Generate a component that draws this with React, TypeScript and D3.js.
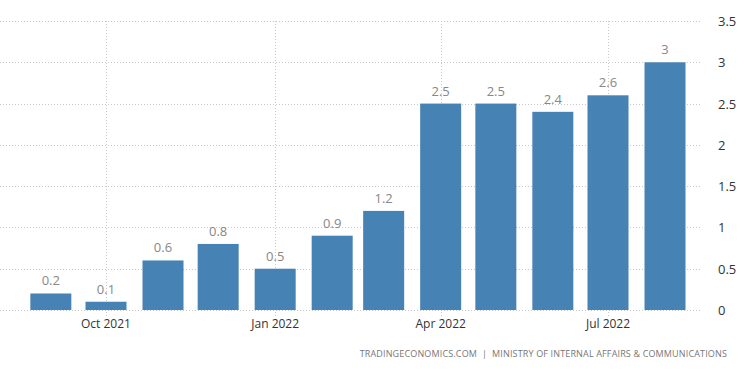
import React, { useEffect, useRef } from "react";
import * as d3 from "d3";

const months = [
  "2021-09-01", "2021-10-01", "2021-11-01", "2021-12-01", "2022-01-01", "2022-02-01",
  "2022-03-01", "2022-04-01", "2022-05-01", "2022-06-01", "2022-07-01", "2022-08-01",
];
const values = [0.2, 0.1, 0.6, 0.8, 0.5, 0.9, 1.2, 2.5, 2.5, 2.4, 2.6, 3];
const xTicks = ["2021-10-01", "2022-01-01", "2022-04-01", "2022-07-01"];
const yTicks = [0, 0.5, 1, 1.5, 2, 2.5, 3, 3.5];
const source = "TRADINGECONOMICS.COM  |  MINISTRY OF INTERNAL AFFAIRS & COMMUNICATIONS";

const App = () => {
  const ref = useRef<SVGSVGElement>(null);

  useEffect(() => {
    const width = 750;
    const height = 373;
    const plotRight = 700;
    const parse = d3.utcParse("%Y-%m-%d");
    const fmt = d3.utcFormat("%b %Y");
    const font = "'Open Sans', 'DejaVu Sans', sans-serif";

    const x = d3
      .scaleUtc()
      .domain([parse("2021-10-01")!, parse("2022-07-01")!])
      .range([106, 608]);
    const y = d3.scaleLinear().domain([0, 3.5]).range([310, 21]);
    const barW = 41;

    const svg = d3.select(ref.current);
    svg.selectAll("*").remove();
    svg.attr("viewBox", `0 0 ${width} ${height}`);

    svg.append("rect").attr("width", width).attr("height", height).attr("fill", "#fff");

    // horizontal grid
    svg
      .append("g")
      .selectAll("line")
      .data(yTicks)
      .join("line")
      .attr("x1", 0)
      .attr("x2", plotRight)
      .attr("y1", (d) => Math.round(y(d)) + 0.5)
      .attr("y2", (d) => Math.round(y(d)) + 0.5)
      .attr("stroke", "#c8c8c8")
      .attr("stroke-dasharray", "1,2");

    // vertical grid
    svg
      .append("g")
      .selectAll("line")
      .data(xTicks)
      .join("line")
      .attr("x1", (d) => Math.round(x(parse(d)!)) + 0.5)
      .attr("x2", (d) => Math.round(x(parse(d)!)) + 0.5)
      .attr("y1", y(3.5))
      .attr("y2", y(0) + 6)
      .attr("stroke", "#c8c8c8")
      .attr("stroke-dasharray", "1,2");

    // bars
    svg
      .append("g")
      .selectAll("rect")
      .data(months)
      .join("rect")
      .attr("x", (d) => x(parse(d)!) - barW / 2)
      .attr("width", barW)
      .attr("y", (d, i) => y(values[i]))
      .attr("height", (d, i) => y(0) - y(values[i]))
      .attr("fill", "#4682b4");

    // value labels
    svg
      .append("g")
      .selectAll("text")
      .data(months)
      .join("text")
      .attr("x", (d) => x(parse(d)!))
      .attr("y", (d, i) => y(values[i]) - 8)
      .attr("text-anchor", "middle")
      .attr("font-family", font)
      .attr("font-size", 13)
      .attr("fill", "#888")
      .text((d, i) => String(values[i]));

    // x axis labels
    svg
      .append("g")
      .selectAll("text")
      .data(xTicks)
      .join("text")
      .attr("x", (d) => x(parse(d)!))
      .attr("y", 328)
      .attr("text-anchor", "middle")
      .attr("font-family", font)
      .attr("font-size", 12)
      .attr("fill", "#333")
      .text((d) => fmt(parse(d)!));

    // y axis labels
    svg
      .append("g")
      .selectAll("text")
      .data(yTicks)
      .join("text")
      .attr("x", 718)
      .attr("y", (d) => y(d) + 5)
      .attr("font-family", font)
      .attr("font-size", 13)
      .attr("fill", "#333")
      .text((d) => String(d));

    svg
      .append("text")
      .attr("x", 727)
      .attr("y", 357)
      .attr("text-anchor", "end")
      .attr("font-family", font)
      .attr("font-size", 9)
      .attr("letter-spacing", 0.15)
      .attr("fill", "#777")
      .attr("xml:space", "preserve")
      .style("white-space", "pre")
      .text(source);
  }, []);

  return (
    <svg
      ref={ref}
      width={750}
      height={373}
      style={{ position: "absolute", left: 0, top: 0, display: "block" }}
    />
  );
};

export default App;
